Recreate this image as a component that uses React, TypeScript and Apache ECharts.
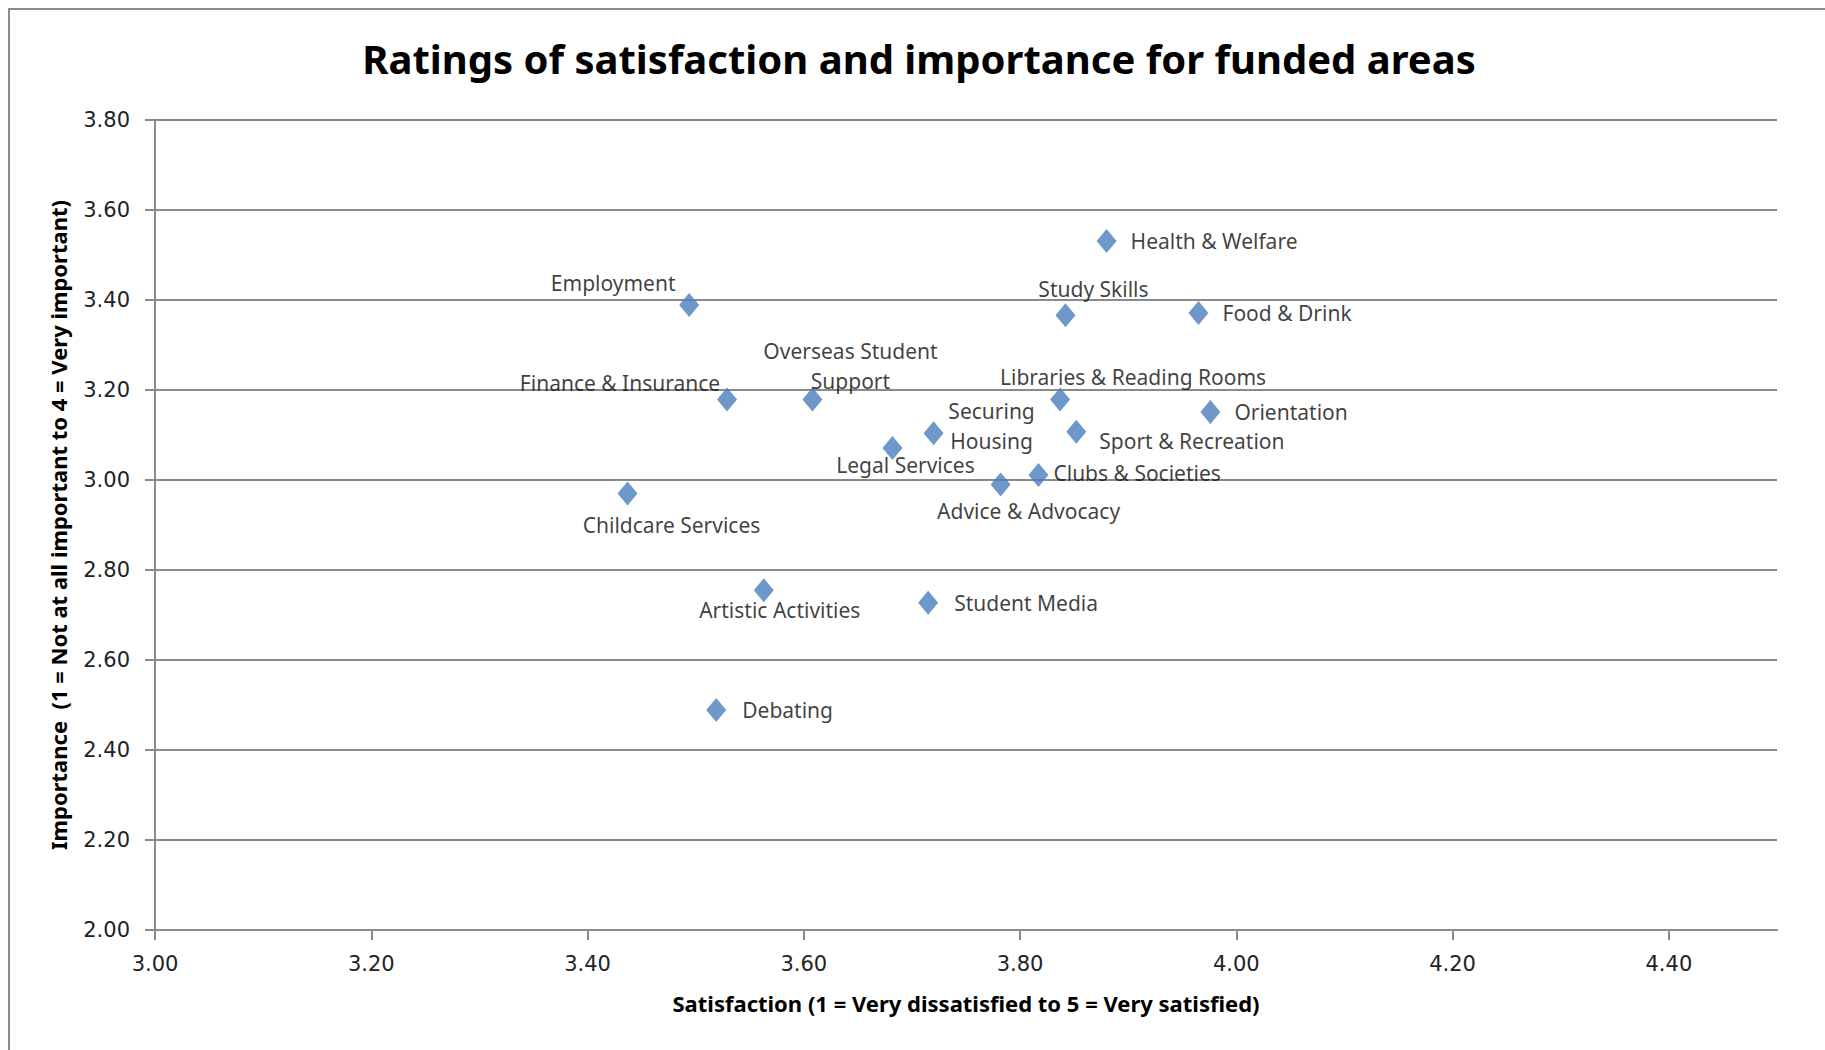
import React, { useEffect, useRef } from "react";
import * as echarts from "echarts";

// Funded areas with their mean satisfaction (x) and importance (y) ratings
const areas: string[] = [
  "Health & Welfare",
  "Employment",
  "Study Skills",
  "Food & Drink",
  "Finance & Insurance",
  "Overseas Student\nSupport",
  "Libraries & Reading Rooms",
  "Orientation",
  "Securing\nHousing",
  "Sport & Recreation",
  "Legal Services",
  "Clubs & Societies",
  "Advice & Advocacy",
  "Childcare Services",
  "Artistic Activities",
  "Student Media",
  "Debating",
];

const satisfaction: number[] = [
  3.88, 3.494, 3.842, 3.965, 3.529, 3.608, 3.837, 3.976, 3.72, 3.852, 3.682,
  3.817, 3.782, 3.437, 3.563, 3.715, 3.519,
];

const importance: number[] = [
  3.531, 3.389, 3.366, 3.371, 3.179, 3.179, 3.179, 3.151, 3.104, 3.107, 3.071,
  3.011, 2.99, 2.97, 2.755, 2.727, 2.489,
];

// Label placement relative to each marker centre: [dx, dy, align]
const labelPlacement: [number, number, string][] = [
  [24, 0, "left"],
  [-76, -22, "center"],
  [28, -26, "center"],
  [24, 0, "left"],
  [-107, -16, "center"],
  [38, -33, "center"],
  [73, -22, "center"],
  [24, 0, "left"],
  [58, -7, "center"],
  [23, 9, "left"],
  [13, 17, "center"],
  [15, -2, "left"],
  [28, 26, "center"],
  [44, 31, "center"],
  [16, 20, "center"],
  [26, 0, "left"],
  [26, 0, "left"],
];

const xTicks = { min: 3.0, max: 4.5, interval: 0.2 };
const yTicks = { min: 2.0, max: 3.8, interval: 0.2 };

const MARKER_W = 20;
const MARKER_H = 24;

export default function App() {
  const ref = useRef<HTMLDivElement>(null);

  useEffect(() => {
    if (!ref.current) return;
    const chart = echarts.init(ref.current, null, { renderer: "svg" });

    const points = areas.map((name, i) => {
      const [dx, dy, align] = labelPlacement[i];
      return {
        name,
        value: [satisfaction[i], importance[i]],
        label: {
          show: true,
          formatter: name,
          position: [MARKER_W / 2 + dx, MARKER_H / 2 + dy],
          align,
          verticalAlign: "middle",
          fontFamily: "Noto Sans",
          fontSize: 21,
          lineHeight: 30,
          color: "#0d0d0d",
        },
      };
    });

    const gridColor = "#8a8a8a";

    chart.setOption({
      animation: false,
      backgroundColor: "#ffffff",
      title: {
        text: "Ratings of satisfaction and importance for funded areas",
        left: 914,
        top: 33,
        textAlign: "center",
        textStyle: {
          fontFamily: "Noto Sans",
          fontWeight: "bold",
          fontSize: 40,
          color: "#000000",
        },
      },
      graphic: [
        {
          type: "rect",
          shape: { x: 9, y: 9, width: 1830, height: 1060 },
          style: { fill: "none", stroke: "#8c8c8c", lineWidth: 2 },
          silent: true,
        },
      ],
      grid: { left: 155, right: 48, top: 120, bottom: 120 },
      xAxis: {
        type: "value",
        min: xTicks.min,
        max: xTicks.max,
        interval: xTicks.interval,
        name: "Satisfaction (1 = Very dissatisfied to 5 = Very satisfied)",
        nameLocation: "middle",
        nameGap: 62,
        nameTextStyle: {
          fontFamily: "Noto Sans",
          fontWeight: "bold",
          fontSize: 22,
          color: "#000000",
        },
        axisLine: { show: true, lineStyle: { color: gridColor, width: 2 } },
        axisTick: {
          show: true,
          inside: false,
          length: 10,
          lineStyle: { color: gridColor, width: 2 },
        },
        splitLine: { show: false },
        axisLabel: {
          showMaxLabel: false,
          margin: 23,
          fontFamily: "DejaVu Sans",
          fontSize: 21,
          color: "#222222",
          formatter: (v: number) => v.toFixed(2),
        },
      },
      yAxis: {
        type: "value",
        min: yTicks.min,
        max: yTicks.max,
        interval: yTicks.interval,
        name: "Importance  (1 = Not at all important to 4 = Very important)",
        nameLocation: "middle",
        nameRotate: 90,
        nameGap: 86,
        nameTextStyle: {
          fontFamily: "Noto Sans",
          fontWeight: "bold",
          fontSize: 22,
          color: "#000000",
        },
        axisLine: { show: true, lineStyle: { color: gridColor, width: 2 } },
        axisTick: {
          show: true,
          inside: false,
          length: 10,
          lineStyle: { color: gridColor, width: 2 },
        },
        splitLine: { show: true, lineStyle: { color: gridColor, width: 2 } },
        axisLabel: {
          margin: 25,
          fontFamily: "DejaVu Sans",
          fontSize: 21,
          color: "#222222",
          formatter: (v: number) => v.toFixed(2),
        },
      },
      series: [
        {
          type: "scatter",
          symbol: "diamond",
          symbolSize: [MARKER_W, MARKER_H],
          itemStyle: { color: "#4a7ebb" },
          data: points,
        },
      ],
    });

    return () => chart.dispose();
  }, []);

  return (
    <div
      ref={ref}
      style={{ position: "fixed", left: 0, top: 0, width: 1825, height: 1050 }}
    />
  );
}
